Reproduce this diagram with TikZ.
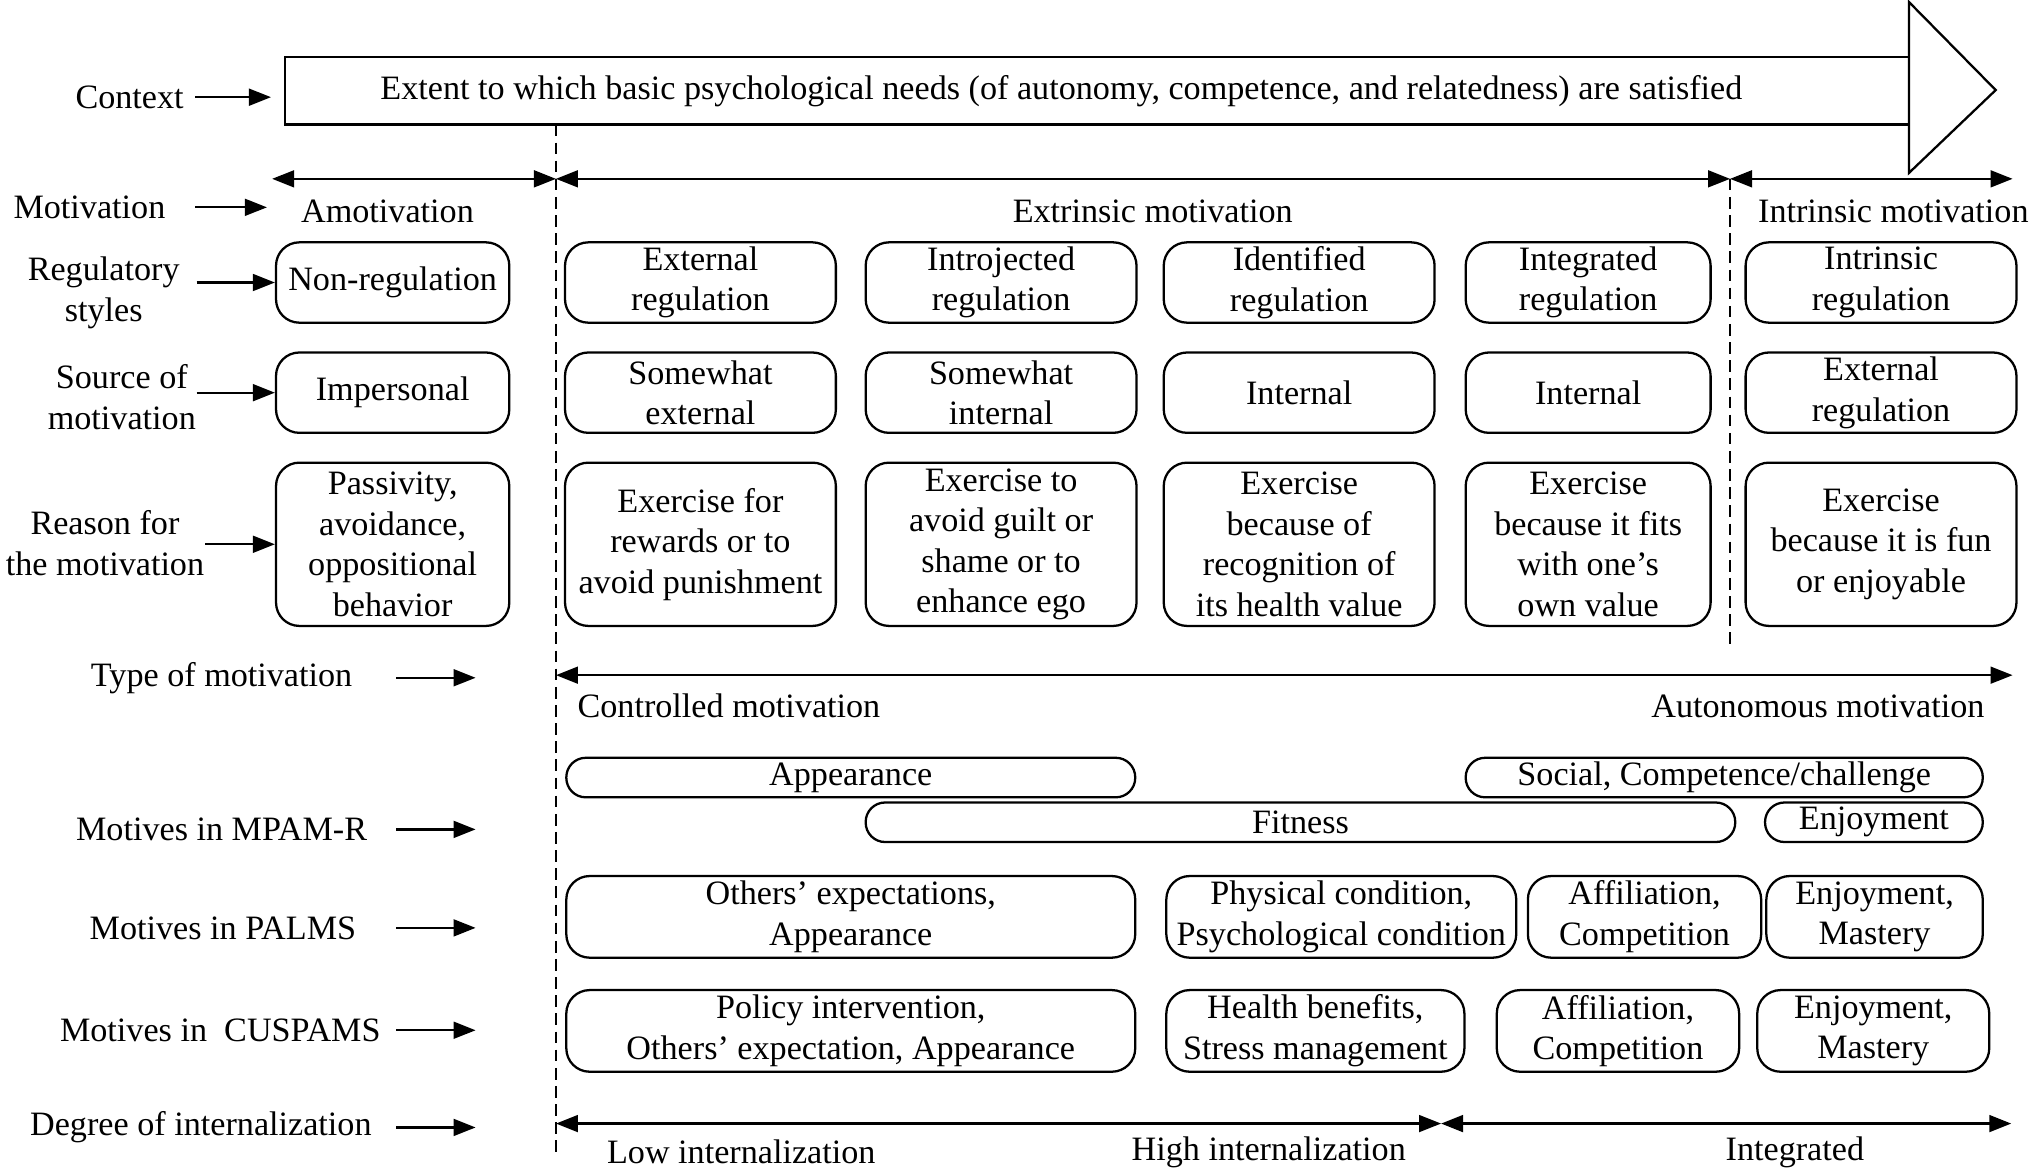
\documentclass[tikz,border=0pt]{standalone}
\usepackage{fontspec}
\setmainfont{Liberation Serif}
\usetikzlibrary{arrows.meta}

\tikzset{
  box/.style={draw, rounded corners=1.8mm, align=center, inner sep=0pt, line width=0.5pt},
  midbox/.style={box, minimum height=6.2mm},
  tallbox/.style={box, minimum height=12.6mm},
  thinbox/.style={box, rounded corners=1.5mm, minimum height=3.05mm},
  rowlbl/.style={align=center, inner sep=0pt},
  arr/.style={-{Triangle[length=1.7mm,width=1.3mm]}, line width=0.5pt},
  darr/.style={{Triangle[length=1.7mm,width=1.3mm]}-{Triangle[length=1.7mm,width=1.3mm]}, line width=0.5pt},
  divider/.style={dash pattern=on 0.9mm off 0.5mm, line width=0.5pt},
}

\begin{document}
\begin{tikzpicture}[x=1mm, y=-1mm, font=\rmfamily\fontsize{7.5}{8.9}\selectfont]
      \useasboundingbox (0,0) rectangle (156.8,90.7);

      % context arrow
      \node[draw, line width=0.5pt, minimum width=125.3mm, minimum height=5.2mm] (ctx) at (84.65,7.0) {};
      \draw[line width=0.5pt] (147.3,0.15) -- (154.0,6.95) -- (147.3,13.35) -- cycle;
      \node (ctxtxt) at (81.9,7.0) {Extent to which basic psychological needs (of autonomy, competence, and relatedness) are satisfied};

      % left labels
      \node[rowlbl, minimum width=10mm] (lctx) at (10.0,7.5) {Context};
      \node[rowlbl, minimum width=16.2mm] (lmot) at (6.9,16.0) {Motivation};
      \node[rowlbl, minimum width=14.2mm] (lreg) at (8.0,22.6) {Regulatory\\styles};
      \node[rowlbl, minimum width=11.4mm] (lsrc) at (9.4,30.65) {Source of\\motivation};
      \node[rowlbl, minimum width=14mm] (lrsn) at (8.1,41.9) {Reason for\\the motivation};
      \node[rowlbl, minimum width=26.8mm] (ltype) at (17.1,52.3) {Type of motivation};
      \node[rowlbl, minimum width=26.8mm] (lmpam) at (17.1,64.0) {Motives in MPAM-R};
      \node[rowlbl, minimum width=26.6mm] (lpalms) at (17.2,71.6) {Motives in PALMS};
      \node[rowlbl, minimum width=27mm] (lcus) at (17.0,79.5) {Motives in\ \ CUSPAMS};
      \node[rowlbl, minimum width=30mm] (ldeg) at (15.5,87.0) {Degree of internalization};

      \coordinate (etype) at (36.7,52.3);
      \coordinate (empam) at (36.7,64.0);
      \coordinate (epalms) at (36.7,71.6);
      \coordinate (ecus) at (36.7,79.5);
      \coordinate (edeg) at (36.7,87.0);

      % motivation
      \coordinate (mA) at (21.0,13.8);
      \coordinate (mB) at (42.9,13.8);
      \coordinate (mC) at (133.5,13.8);
      \coordinate (mD) at (155.3,13.8);
      \node (amot) at (29.9,16.3) {Amotivation};
      \node (extr) at (88.95,16.3) {Extrinsic motivation};
      \node (intr) at (146.1,16.3) {Intrinsic motivation};

      % regulatory styles
      \node[midbox, minimum width=18mm] (reg0) at (30.3,21.8) {Non-regulation};
      \node[midbox, minimum width=20.9mm] (reg1) at (54.05,21.8) {External\\regulation};
      \node[midbox, minimum width=20.9mm] (reg2) at (77.25,21.8) {Introjected\\regulation};
      \node[midbox, minimum width=20.9mm] (reg3) at (100.25,21.8) {Identified\\regulation};
      \node[midbox, minimum width=18.9mm] (reg4) at (122.55,21.8) {Integrated\\regulation};
      \node[midbox, minimum width=20.9mm] (reg5) at (145.15,21.8) {Intrinsic\\regulation};

      % source of motivation
      \node[midbox, minimum width=18mm] (src0) at (30.3,30.3) {Impersonal};
      \node[midbox, minimum width=20.9mm] (src1) at (54.05,30.3) {Somewhat\\external};
      \node[midbox, minimum width=20.9mm] (src2) at (77.25,30.3) {Somewhat\\internal};
      \node[midbox, minimum width=20.9mm] (src3) at (100.25,30.3) {Internal};
      \node[midbox, minimum width=18.9mm] (src4) at (122.55,30.3) {Internal};
      \node[midbox, minimum width=20.9mm] (src5) at (145.15,30.3) {External\\regulation};

      % reason for the motivation
      \node[tallbox, minimum width=18mm] (rsn0) at (30.3,42.0) {Passivity,\\avoidance,\\oppositional\\behavior};
      \node[tallbox, minimum width=20.9mm] (rsn1) at (54.05,42.0) {Exercise for\\rewards or to\\avoid punishment};
      \node[tallbox, minimum width=20.9mm] (rsn2) at (77.25,42.0) {Exercise to\\avoid guilt or\\shame or to\\enhance ego};
      \node[tallbox, minimum width=20.9mm] (rsn3) at (100.25,42.0) {Exercise\\because of\\recognition of\\its health value};
      \node[tallbox, minimum width=18.9mm] (rsn4) at (122.55,42.0) {Exercise\\because it fits\\with one’s\\own value};
      \node[tallbox, minimum width=20.9mm] (rsn5) at (145.15,42.0) {Exercise\\because it is fun\\or enjoyable};

      % type of motivation
      \coordinate (tA) at (42.9,52.1);
      \coordinate (tB) at (155.3,52.1);
      \node[anchor=west, inner sep=0pt] (ctrl) at (44.5,54.5) {Controlled motivation};
      \node[anchor=east, inner sep=0pt] (auto) at (153.2,54.5) {Autonomous motivation};

      % MPAM-R
      \node[thinbox, minimum width=43.9mm] (app) at (65.65,60.0) {Appearance};
      \node[thinbox, minimum width=39.9mm] (soc) at (133.05,60.0) {Social, Competence/challenge};
      \node[thinbox, minimum width=67.1mm] (fit) at (100.35,63.45) {Fitness};
      \node[thinbox, minimum width=16.8mm] (enj) at (144.6,63.45) {Enjoyment};

      % PALMS
      \node[box, minimum height=6.3mm, minimum width=43.9mm] (pal0) at (65.65,70.75) {Others’ expectations,\\Appearance};
      \node[box, minimum height=6.3mm, minimum width=27mm] (pal1) at (103.5,70.75) {Physical condition,\\Psychological condition};
      \node[box, minimum height=6.3mm, minimum width=18mm] (pal2) at (126.9,70.75) {Affiliation,\\Competition};
      \node[box, minimum height=6.3mm, minimum width=16.7mm] (pal3) at (144.65,70.75) {Enjoyment,\\Mastery};

      % CUSPAMS
      \node[box, minimum height=6.3mm, minimum width=43.9mm] (cus0) at (65.65,79.55) {Policy intervention,\\Others’ expectation, Appearance};
      \node[box, minimum height=6.3mm, minimum width=23mm] (cus1) at (101.5,79.55) {Health benefits,\\Stress management};
      \node[box, minimum height=6.3mm, minimum width=18.7mm] (cus2) at (124.85,79.55) {Affiliation,\\Competition};
      \node[box, minimum height=6.3mm, minimum width=17.9mm] (cus3) at (144.55,79.55) {Enjoyment,\\Mastery};

      % degree of internalization
      \coordinate (gA) at (42.9,86.7);
      \coordinate (gB) at (111.2,86.7);
      \coordinate (gC) at (155.2,86.7);
      \node (low) at (57.2,88.9) {Low internalization};
      \node (high) at (97.9,88.9) {High internalization};
      \node (integ) at (138.5,88.9) {Integrated};

      % dividers
      \draw[divider] (42.9,9.6) -- (42.9,89.0);
      \draw[divider] (133.5,13.8) -- (133.5,50.0);

      % arrows
      \draw[arr, shorten >=1mm] (lctx) -- (lctx -| ctx.west);
      \draw[arr, shorten >=1.4mm] (lmot) -- (lmot -| amot.west);
      \draw[arr] (lreg.east |- reg0) -- (reg0);
      \draw[arr] (lsrc.east |- src0) -- (src0);
      \draw[arr] (lrsn.east |- rsn0) -- (rsn0);
      \draw[arr] (ltype) -- (etype);
      \draw[arr] (lmpam) -- (empam);
      \draw[arr] (lpalms) -- (epalms);
      \draw[arr] (lcus) -- (ecus);
      \draw[arr] (ldeg) -- (edeg);

      \draw[darr] (mA) -- (mB);
      \draw[darr] (mB) -- (mC);
      \draw[darr] (mC) -- (mD);
      \draw[darr] (tA) -- (tB);
      \draw[darr] (gA) -- (gB);
      \draw[darr] (gB) -- (gC);
    \end{tikzpicture}
\end{document}
